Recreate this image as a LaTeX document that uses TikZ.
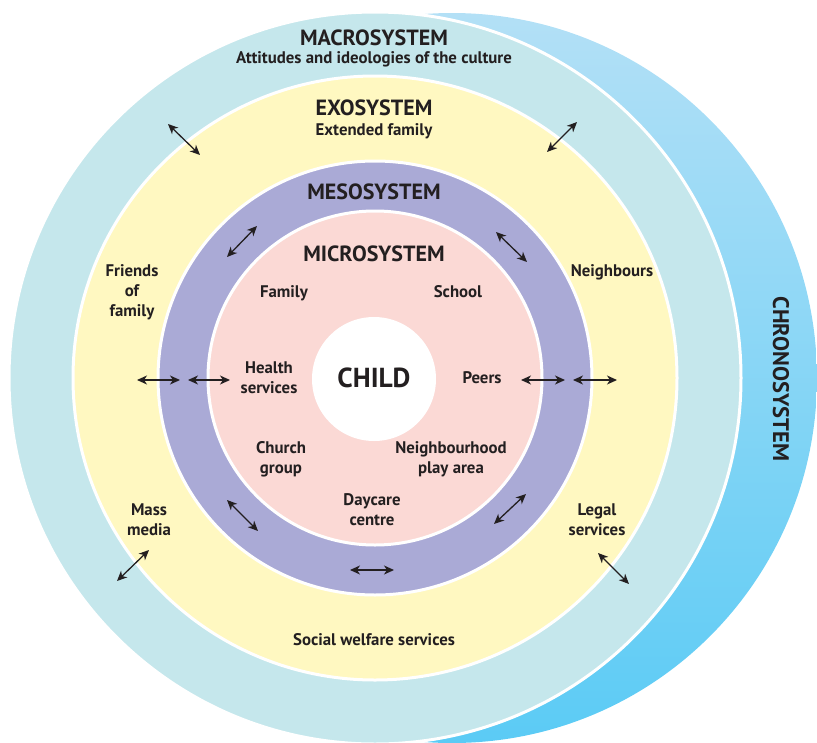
\documentclass[tikz,border=0pt]{standalone}
\usepackage{fontspec}
\setmainfont{PT Sans}
\usepackage{tikz}
\usetikzlibrary{arrows.meta}
\definecolor{ink}{HTML}{231F20}
\definecolor{macro-blue}{HTML}{C5E7EC}
\definecolor{exo-yellow}{HTML}{FFF8C1}
\definecolor{meso-purple}{HTML}{AAAAD6}
\definecolor{micro-pink}{HTML}{FBD9D5}
\definecolor{chrono-top}{HTML}{B3E0F6}
\definecolor{chrono-mid}{HTML}{C9E8F8}
\definecolor{chrono-bot}{HTML}{5BCBF5}
\newcommand*\hdg{\fontsize{22}{24}\selectfont\bfseries}
\newcommand*\lbl{\fontsize{16.8}{20}\selectfont\bfseries}

\begin{document}
\begin{tikzpicture}[x=1pt,y=-1pt,
				ring/.style={draw=white,line width=3pt},
				txt/.style={text=ink,align=center,inner sep=0pt,anchor=base,font=\lbl},
				twoway/.style={{Stealth[length=10pt,width=9pt,inset=3pt]}-{Stealth[length=10pt,width=9pt,inset=3pt]},line width=1.3pt,draw=ink}]
				\useasboundingbox (0,0) rectangle (817,742);
				% the rings, outside in
				\shade[top color=chrono-top,middle color=chrono-mid,bottom color=chrono-bot] (452,378) circle (365);
				\draw[ring,fill=macro-blue] (375,378) circle (366);
				\draw[ring,fill=exo-yellow] (375,378) circle (302);
				\draw[ring,fill=meso-purple] (375,378) circle (217);
				\draw[ring,fill=micro-pink] (375,378) circle (167);
				\fill[white] (374,379) circle (62);
				% headings
				\node[txt,font=\hdg] (macro) at (374,45.5) {MACROSYSTEM};
				\node[txt] (culture) at (374,63) {Attitudes and ideologies of the culture};
				\node[txt,font=\hdg] (exo) at (374,115.5) {EXOSYSTEM};
				\node[txt] (extended) at (374,135) {Extended family};
				\node[txt,font=\hdg] (meso) at (374,199) {MESOSYSTEM};
				\node[txt,font=\hdg] (micro) at (374,261.5) {MICROSYSTEM};
				\node[txt,font=\fontsize{27.5}{30}\selectfont\bfseries] (child) at (374,387) {CHILD};
				\node[txt,font=\fontsize{22.5}{24}\selectfont\bfseries,rotate=-90,anchor=center] (chrono) at (781,379) {CHRONOSYSTEM};
				% microsystem (multi-line nodes sit on their last baseline)
				\node[txt] (family) at (284,297) {Family};
				\node[txt] (school) at (458,297) {School};
				\node[txt] (health) at (269,393) {Health\\services};
				\node[txt] (peers) at (482,383) {Peers};
				\node[txt] (church) at (281,473) {Church\\group};
				\node[txt] (play) at (451,473) {Neighbourhood\\play area};
				\node[txt] (daycare) at (372,525) {Daycare\\centre};
				% exosystem
				\node[txt] (friends) at (132,316.5) {Friends\\of\\family};
				\node[txt] (neighbours) at (612,276) {Neighbours};
				\node[txt] (media) at (149,535) {Mass\\media};
				\node[txt] (legal) at (597,535) {Legal\\services};
				\node[txt] (welfare) at (374,645.5) {Social welfare services};
				% links between the systems
				\foreach \xa/\ya/\xb/\yb [count=\i] in {168/124/200/155, 547/152/577/122, 227/257/257/226, 496/232/527/262,
						137/380/180/380, 188/380/230/380, 521/380/565/380, 573/380/617/380,
						227/500/258/531, 350/570/394/570, 494/524/526/494, 117/581/149/550, 598/553/629/584}
				{
					\coordinate (s\i) at (\xa,\ya);
					\coordinate (t\i) at (\xb,\yb);
					\draw[twoway] (s\i) -- (t\i);
				}
				\end{tikzpicture}
\end{document}
